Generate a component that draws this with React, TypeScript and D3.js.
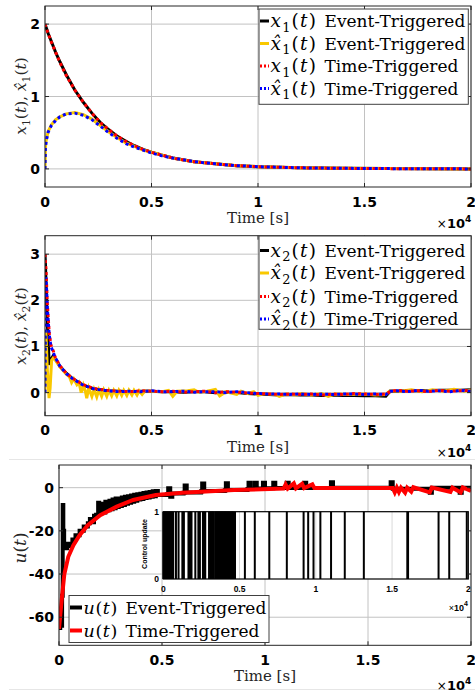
import * as d3 from "d3";

// shared time axis (seconds, printed as x10^4)
const xTickVals = [0, 5000, 10000, 15000, 20000];
const xTickText = ["0", "0.5", "1", "1.5", "2"];

/* ---------------- panel 1 : x1(t) and its estimate ---------------- */
const t1 = [0, 20, 60, 150, 300, 500, 700, 1000, 1400, 1800, 2200, 2600, 3000, 3400, 3800, 4200, 4600, 5000, 5500, 6000, 7000, 8000, 9000, 10000, 12000, 14000, 16000, 18000, 20000];
const x1Event = [2.0, 1.98, 1.95, 1.87, 1.76, 1.61, 1.48, 1.30, 1.09, 0.92, 0.77, 0.64, 0.54, 0.45, 0.38, 0.32, 0.27, 0.23, 0.19, 0.15, 0.10, 0.07, 0.045, 0.03, 0.015, 0.008, 0.004, 0.002, 0.0];
const x1hatEvent = [0, 0.30, 0.40, 0.52, 0.61, 0.68, 0.72, 0.76, 0.78, 0.75, 0.69, 0.60, 0.51, 0.43, 0.36, 0.31, 0.26, 0.23, 0.19, 0.15, 0.10, 0.07, 0.045, 0.03, 0.015, 0.008, 0.004, 0.002, 0.0];
const x1Time = [2.0, 1.98, 1.94, 1.87, 1.75, 1.61, 1.47, 1.29, 1.09, 0.92, 0.77, 0.64, 0.54, 0.45, 0.38, 0.32, 0.27, 0.23, 0.19, 0.15, 0.10, 0.07, 0.045, 0.03, 0.015, 0.008, 0.004, 0.002, 0.0];
const x1hatTime = [0, 0.29, 0.39, 0.51, 0.60, 0.67, 0.72, 0.76, 0.77, 0.74, 0.68, 0.59, 0.50, 0.42, 0.35, 0.30, 0.26, 0.22, 0.18, 0.15, 0.10, 0.07, 0.045, 0.03, 0.015, 0.008, 0.004, 0.002, 0.0];
const y1Ticks = [0, 1, 2];

/* ---------------- panel 2 : x2(t) and its estimate ---------------- */
const t2 = [0, 20, 40, 50, 80, 110, 160, 200, 280, 390, 470, 700, 1000, 1300, 1800, 2300, 2900, 3500, 4000, 4500, 5000, 5500, 6000, 6500, 7000, 7500, 8000, 8500, 9000, 9500, 10000, 10500, 11000, 11500, 12000, 12500, 13000, 13500, 14000, 14500, 15000, 15500, 16000, 16200, 16500, 17000, 17500, 18000, 18500, 19000, 19500, 20000];
const x2Event = [3.0, 2.8, 2.5, 2.35, 1.9, 1.5, 1.0, 0.6, 0.72, 0.8, 0.74, 0.57, 0.42, 0.3, 0.16, 0.08, 0.04, 0.03, 0.02, 0.03, 0.03, 0.02, 0.02, 0.01, 0.02, 0.02, 0.0, 0.01, 0.0, -0.02, -0.03, -0.04, -0.05, -0.04, -0.05, -0.05, -0.06, -0.05, -0.06, -0.06, -0.07, -0.07, -0.08, 0.03, 0.03, 0.04, 0.04, 0.04, 0.05, 0.05, 0.05, 0.06];
const x2Time = [3.0, 2.85, 2.72, 2.66, 2.29, 1.93, 1.57, 1.29, 1.03, 0.9, 0.78, 0.58, 0.42, 0.31, 0.17, 0.09, 0.05, 0.03, 0.02, 0.04, 0.03, 0.02, 0.03, 0.01, 0.02, 0.03, 0.0, 0.02, 0.01, -0.01, -0.02, -0.03, -0.04, -0.03, -0.04, -0.03, -0.05, -0.03, -0.04, -0.02, -0.03, -0.04, -0.03, 0.02, 0.05, 0.03, 0.04, 0.02, 0.05, 0.03, 0.04, 0.05];
const x2hatTime = [0, 1.5, 2.5, 2.45, 2.2, 1.85, 1.5, 1.25, 1.0, 0.87, 0.77, 0.57, 0.41, 0.3, 0.16, 0.08, 0.04, 0.02, 0.03, 0.02, 0.04, 0.02, 0.02, 0.03, 0.01, 0.02, 0.02, 0.0, 0.02, 0.0, -0.02, -0.03, -0.03, -0.04, -0.03, -0.04, -0.03, -0.04, -0.03, -0.03, -0.04, -0.03, -0.04, 0.03, 0.04, 0.02, 0.05, 0.03, 0.04, 0.02, 0.05, 0.03];
const t2hat = [0, 40, 110, 190, 240, 310, 400, 550, 700, 850, 1000, 1150, 1250, 1350, 1500, 1600, 1700, 1800, 1900, 1960, 2050, 2200, 2300, 2430, 2530, 2660, 2760, 2900, 3000, 3130, 3230, 3370, 3470, 3600, 3700, 3840, 3940, 4080, 4180, 4320, 4420, 4560, 4700, 5000, 5500, 5800, 6000, 6200, 6700, 7000, 7200, 7600, 8000, 8200, 8500, 9000, 9200, 9500, 9800, 10000, 10300, 10800, 11000, 11300, 11800, 12000, 12500, 13000, 13300, 13600, 14200, 15000, 15500, 16000, 16200, 16700, 17200, 17700, 18200, 18700, 19200, 19700, 20000];
const x2hatEvent = [0, 1.35, 0.5, -0.12, 0.1, 0.7, 0.76, 0.66, 0.56, 0.48, 0.4, 0.34, 0.22, 0.3, 0.17, 0.22, 0.0, 0.16, 0.02, -0.12, 0.1, -0.08, 0.07, -0.09, 0.06, -0.08, 0.06, -0.08, 0.05, -0.07, 0.05, -0.07, 0.05, -0.06, 0.05, -0.06, 0.05, -0.05, 0.05, -0.05, 0.04, -0.04, 0.04, 0.03, 0.02, 0.05, -0.08, 0.03, 0.04, 0.06, 0.01, 0.03, 0.07, -0.07, 0.02, -0.04, 0.03, -0.02, 0.02, -0.06, -0.02, -0.04, -0.08, -0.03, -0.05, -0.02, -0.05, -0.02, -0.08, -0.03, -0.04, -0.03, -0.05, -0.04, 0.04, 0.03, 0.06, 0.02, 0.06, 0.03, 0.07, 0.03, 0.06];
const y2Ticks = [0, 1, 2, 3];

/* ---------------- panel 3 : control input u(t) ---------------- */
const tU = [0, 130, 260, 450, 700, 1000, 1400, 2000, 2800, 3600, 4700, 6000, 8500, 10900, 11000, 11100, 11400, 11500, 11800, 11900, 12300, 12400, 14000, 16200, 16300, 16400, 16500, 16600, 16800, 16900, 17100, 17200, 18000, 18100, 19000, 19100, 19500, 19600, 20000];
const uTime = [-65.4, -52, -40, -32, -26.6, -22, -17.4, -12.7, -8.8, -5.7, -3.4, -2.3, -1.1, -0.4, 1.5, -0.4, 2.0, -0.3, 1.8, -0.2, 1.5, -0.2, -0.1, -0.1, -2.2, 0, -2.0, 0, -2.3, 0, -1.8, 0.2, -2.2, 0, -2.0, 0, -2.2, 0.1, -1.5];
const tUe = [0, 60, 120, 150, 180, 210, 250, 320, 400, 500, 650, 800, 1000, 1200, 1400, 1500, 1600, 1700, 1800, 1900, 1950, 2050, 2150, 2250, 2350, 2450, 2550, 2600, 2700, 2750, 2850, 2900, 3000, 3050, 3150, 3200, 3300, 3350, 3450, 3500, 3600, 3650, 3750, 3800, 3900, 3950, 4050, 4100, 4200, 4250, 4350, 4400, 4500, 4550, 4650, 4700, 4800, 5250, 5300, 5400, 5500, 6050, 6100, 6200, 6900, 6950, 7050, 8050, 8100, 8200, 9150, 9200, 9300, 9450, 9500, 9600, 9850, 9900, 10000, 10350, 10400, 10500, 11000, 11050, 11150, 11850, 11900, 12000, 13150, 13200, 13300, 16050, 16100, 16200, 17950, 18000, 18100, 19400, 19450, 19550, 20000];
const uEvent = [-65, -57, -64, -50, -8, -20, -26, -28, -27, -26, -24, -22, -20, -18, -16.5, -14.5, -16, -13, -12.5, -7, -12, -7.5, -11.5, -6.5, -10.5, -6, -10, -5.5, -9.5, -5, -9, -5, -8.5, -4.5, -8, -4.2, -7.5, -4, -7, -3.6, -6.5, -3.3, -6, -3, -5.5, -2.8, -5.2, -2.5, -4.8, -2.2, -4.5, -2, -4.2, -1.7, -4, -1.5, -3.4, -3, -0.3, -4.2, -2.7, -2.3, 1.0, -2.2, -1.6, 1.9, -1.5, -1.2, 2, -1.1, -0.6, 2.3, -0.5, -0.5, 2.3, -0.4, -0.4, 2.3, -0.3, -0.3, 2.3, -0.2, -0.2, 2.3, -0.2, -0.1, 2.3, -0.1, -0.1, 2.5, 0, 0, 2.5, -0.5, -0.5, -2.3, 0, 0, -2.3, 0, 0];
const y3Ticks = [-60, -40, -20, 0];

// instants when the event-triggered controller updates (inset)
const updateTimes = [0, 50, 100, 150, 200, 250, 300, 350, 400, 450, 500, 550, 600, 650, 830, 1000, 1250, 1300, 1350, 1650, 1700, 1750, 1800, 1850, 2100, 2300, 2350, 2400, 2600, 2650, 2700, 2750, 3000, 3050, 3100, 3150, 3200, 3250, 3300, 3400, 3450, 3500, 3550, 3600, 3650, 3700, 3750, 3800, 3850, 3900, 3950, 4000, 4050, 4100, 4150, 4200, 4250, 4300, 4350, 4400, 4450, 4500, 4550, 4600, 4700, 5350, 6000, 6950, 8100, 9200, 9500, 9850, 10300, 11000, 11900, 13150, 16000, 16050, 18050, 18750, 19900];
const insetXTicks = [0, 5000, 10000, 15000, 20000];
const insetYTicks = [0, 1];

const legendEvent = "Event-Triggered";
const legendTime = "Time-Triggered";

const INK = "#262626";
const GRID = "#c2c2c2";
const GOLD = "#f9c800";
const SERIF = "'DejaVu Serif', serif";
const SANS = "'DejaVu Sans', sans-serif";
const ARIAL = "'Liberation Sans', sans-serif";

type Sc = d3.ScaleLinear<number, number>;

function linePath(x: Sc, y: Sc, t: number[], v: number[], curve: d3.CurveFactory = d3.curveLinear) {
    const pts = d3.zip(t, v) as [number, number][];
    return d3.line<[number, number]>().x(d => x(d[0])).y(d => y(d[1])).curve(curve)(pts) ?? "";
}

function Grid({ x, y, yTicks }: { x: Sc; y: Sc; yTicks: number[] }) {
    const [l, r] = x.range();
    const [b, tp] = y.range();
    return (
        <g stroke={GRID} strokeWidth={1}>
            {xTickVals.map(v => <line key={"gx" + v} x1={x(v)} x2={x(v)} y1={b} y2={tp} />)}
            {yTicks.map(v => <line key={"gy" + v} x1={l} x2={r} y1={y(v)} y2={y(v)} />)}
        </g>
    );
}

function Box({ x, y, yTicks, timeDy, expDy }: { x: Sc; y: Sc; yTicks: number[]; timeDy: number; expDy: number }) {
    const [l, r] = x.range();
    const [b, tp] = y.range();
    const tk = 4;
    return (
        <g>
            <rect x={l} y={tp} width={r - l} height={b - tp} fill="none" stroke={INK} strokeWidth={1} />
            {xTickVals.map(v => (
                <g key={"tx" + v} stroke={INK}>
                    <line x1={x(v)} x2={x(v)} y1={b} y2={b - tk} />
                    <line x1={x(v)} x2={x(v)} y1={tp} y2={tp + tk} />
                </g>
            ))}
            {yTicks.map(v => (
                <g key={"ty" + v} stroke={INK}>
                    <line x1={l} x2={l + tk} y1={y(v)} y2={y(v)} />
                    <line x1={r} x2={r - tk} y1={y(v)} y2={y(v)} />
                </g>
            ))}
            {xTickVals.map((v, i) => (
                <text key={"lx" + v} x={x(v)} y={b + 19.5} textAnchor="middle"
                    fontFamily={SANS} fontWeight="bold" fontSize={14} fill="#000">{xTickText[i]}</text>
            ))}
            {yTicks.map(v => (
                <text key={"ly" + v} x={l - 5} y={y(v) + 5} textAnchor="end"
                    fontFamily={SANS} fontWeight="bold" fontSize={14} fill="#000">{String(v)}</text>
            ))}
            <text x={(l + r) / 2} y={b + timeDy} textAnchor="middle" fontFamily={SERIF} fontSize={15} fill={INK}>Time [s]</text>
            <text x={r - 6} y={b + expDy} textAnchor="end" fontFamily={SANS} fontSize={12} fill="#000">
                ×<tspan fontWeight="bold" fontSize={13}>10</tspan>
            </text>
            <text x={r - 6} y={b + expDy - 6} fontFamily={SANS} fontWeight="bold" fontSize={9} fill="#000">4</text>
        </g>
    );
}

// italic symbol with optional hat and subscript, followed by (t)
function Sym({ s, hat, sub, size, ls = 0 }: { s: string; hat?: boolean; sub?: string; size: number; ls?: number }) {
    return (
        <>
            <tspan fontStyle="italic" fontSize={size} letterSpacing={ls}>{hat ? s + "\u0302" : s}</tspan>
            {sub ? <tspan fontSize={size * 0.7} dy={size * 0.25} letterSpacing={ls}>{sub}</tspan> : null}
            <tspan fontSize={size} dy={sub ? -size * 0.25 : 0} letterSpacing={ls}>(</tspan>
            <tspan fontStyle="italic" fontSize={size} letterSpacing={ls}>t</tspan>
            <tspan fontSize={size}>)</tspan>
        </>
    );
}

type Row = { color: string; dash?: string; w: number; s: string; hat?: boolean; sub?: string; label: string };

function Legend({ x0, y0, w, h, rows, rowY, sampleW, textGap, mathSize, mathLs }: { x0: number; y0: number; w: number; h: number; rows: Row[]; rowY: number[]; sampleW: number; textGap: number; mathSize: number; mathLs: number }) {
    return (
        <g>
            <rect x={x0} y={y0} width={w} height={h} fill="#fff" stroke="#404040" strokeWidth={1} />
            {rows.map((r, i) => (
                <g key={i}>
                    <line x1={x0 + 1} x2={x0 + 1 + sampleW} y1={rowY[i]} y2={rowY[i]}
                        stroke={r.color} strokeWidth={r.w} strokeDasharray={r.dash} />
                    <text x={x0 + 2.5 + sampleW} y={rowY[i] + 6} fontFamily={SERIF} fontSize={17} fill="#000">
                        <Sym s={r.s} hat={r.hat} sub={r.sub} size={mathSize} ls={mathLs} />
                        <tspan x={x0 + 2.5 + sampleW + textGap} fontSize={17}>{r.label}</tspan>
                    </text>
                </g>
            ))}
        </g>
    );
}

export default function App() {
    const W = 475, H = 693;

    const x1 = d3.scaleLinear().domain([0, 20000]).range([45, 471]);
    const y1 = d3.scaleLinear().domain([-0.25, 2.25]).range([187, 6]);
    const x2 = d3.scaleLinear().domain([0, 20000]).range([45, 471]);
    const y2 = d3.scaleLinear().domain([-0.5, 3.4]).range([415.7, 235.7]);
    const x3 = d3.scaleLinear().domain([0, 20000]).range([59, 471]);
    const y3 = d3.scaleLinear().domain([-73, 10.5]).range([645.3, 465]);
    const xi = d3.scaleLinear().domain([0, 20000]).range([163.3, 468.3]);
    const yi = d3.scaleLinear().domain([0, 1]).range([579, 511.7]);

    const dot = "3 3";

    return (
        <svg width={W} height={H} style={{ position: "absolute", left: 0, top: 0, background: "#fff" }}>
            <defs>
                <clipPath id="c1"><rect x={45} y={6} width={426} height={181} /></clipPath>
                <clipPath id="c2"><rect x={45} y={235.7} width={426} height={180} /></clipPath>
                <clipPath id="c3"><rect x={59} y={465} width={412} height={180.3} /></clipPath>
            </defs>

            {/* panel separators */}
            <line x1={9} x2={475} y1={459.5} y2={459.5} stroke="#e6e6e6" />
            <line x1={9} x2={475} y1={689.5} y2={689.5} stroke="#e6e6e6" />

            {/* ---------- panel 1 ---------- */}
            <Grid x={x1} y={y1} yTicks={y1Ticks} />
            <g clipPath="url(#c1)" fill="none">
                <path d={linePath(x1, y1, t1, x1Event)} stroke="#000" strokeWidth={3} />
                <path d={linePath(x1, y1, t1, x1hatEvent)} stroke={GOLD} strokeWidth={3} />
                <path d={linePath(x1, y1, t1, x1Time)} stroke="#ff0000" strokeWidth={3} strokeDasharray={dot} />
                <path d={linePath(x1, y1, t1, x1hatTime)} stroke="#0000ff" strokeWidth={3} strokeDasharray={dot} />
            </g>
            <Box x={x1} y={y1} yTicks={y1Ticks} timeDy={36} expDy={41} />
            <text transform="translate(26,96) rotate(-90)" textAnchor="middle" fontFamily={SERIF} fontSize={15} fill={INK}>
                <Sym s="x" sub="1" size={15.5} />, <Sym s="x" hat sub="1" size={15.5} />
            </text>
            <Legend x0={259} y0={9} w={209.3} h={95.3} sampleW={9} textGap={54} mathSize={18.5} mathLs={1.2} rowY={[21, 43.5, 66, 88.5]}
                rows={[
                    { color: "#000", w: 3, s: "x", sub: "1", label: legendEvent },
                    { color: GOLD, w: 3, s: "x", hat: true, sub: "1", label: legendEvent },
                    { color: "#ff0000", w: 3, dash: "2 2", s: "x", sub: "1", label: legendTime },
                    { color: "#0000ff", w: 3, dash: "2 2", s: "x", hat: true, sub: "1", label: legendTime },
                ]} />

            {/* ---------- panel 2 ---------- */}
            <Grid x={x2} y={y2} yTicks={y2Ticks} />
            <g clipPath="url(#c2)" fill="none">
                <path d={linePath(x2, y2, t2, x2Event)} stroke="#000" strokeWidth={3} />
                <path d={linePath(x2, y2, t2hat, x2hatEvent)} stroke={GOLD} strokeWidth={3} />
                <path d={linePath(x2, y2, t2, x2Time)} stroke="#ff0000" strokeWidth={3} strokeDasharray={dot} />
                <path d={linePath(x2, y2, t2, x2hatTime)} stroke="#0000ff" strokeWidth={3} strokeDasharray={dot} />
            </g>
            <Box x={x2} y={y2} yTicks={y2Ticks} timeDy={36} expDy={41} />
            <text transform="translate(26,326) rotate(-90)" textAnchor="middle" fontFamily={SERIF} fontSize={15} fill={INK}>
                <Sym s="x" sub="2" size={15.5} />, <Sym s="x" hat sub="2" size={15.5} />
            </text>
            <Legend x0={259} y0={236} w={212} h={93.3} sampleW={9} textGap={54} mathSize={18.5} mathLs={1.2} rowY={[250.5, 273, 296.5, 319]}
                rows={[
                    { color: "#000", w: 3, s: "x", sub: "2", label: legendEvent },
                    { color: GOLD, w: 3, s: "x", hat: true, sub: "2", label: legendEvent },
                    { color: "#ff0000", w: 3, dash: "2 2", s: "x", sub: "2", label: legendTime },
                    { color: "#0000ff", w: 3, dash: "2 2", s: "x", hat: true, sub: "2", label: legendTime },
                ]} />

            {/* ---------- panel 3 ---------- */}
            <Grid x={x3} y={y3} yTicks={y3Ticks} />
            <g clipPath="url(#c3)" fill="none">
                <path d={linePath(x3, y3, tUe, uEvent, d3.curveStepAfter)} stroke="#000" strokeWidth={4} />
                <path d={linePath(x3, y3, tU, uTime)} stroke="#ff0000" strokeWidth={4} />
            </g>

            {/* inset: control update instants */}
            <g>
                <rect x={163.3} y={511.7} width={305} height={67.3} fill="#fff" />
                {insetXTicks.slice(1, -1).map(v => (
                    <line key={"ig" + v} x1={xi(v)} x2={xi(v)} y1={yi(0)} y2={yi(1)} stroke="#d9d9d9" />
                ))}
                {updateTimes.map((t, i) => (
                    <line key={"u" + i} x1={xi(t)} x2={xi(t)} y1={yi(0)} y2={yi(1)} stroke="#000" strokeWidth={2} />
                ))}
                <rect x={163.3} y={511.7} width={305} height={67.3} fill="none" stroke="#000" strokeWidth={1.2} />
                {insetYTicks.map(v => (
                    <text key={"iy" + v} x={159} y={yi(v) + 3} textAnchor="end" fontFamily={ARIAL}
                        fontWeight="bold" fontSize={8.5} fill="#000">{String(v)}</text>
                ))}
                {insetXTicks.map((v, i) => (
                    <text key={"ix" + v} x={xi(v)} y={591.5} textAnchor="middle" fontFamily={ARIAL}
                        fontWeight="bold" fontSize={8.5} fill="#000">{xTickText[i]}</text>
                ))}
                <text x={464} y={611} textAnchor="end" fontFamily={ARIAL} fontSize={9} fill="#000">
                    ×<tspan fontWeight="bold">10</tspan>
                </text>
                <text x={464} y={605.5} fontFamily={ARIAL} fontWeight="bold" fontSize={7} fill="#000">4</text>
                <text transform="translate(146.5,544) rotate(-90)" textAnchor="middle"
                    fontFamily={ARIAL} fontWeight="bold" fontSize={7} fill="#000">Control update</text>
            </g>

            <Box x={x3} y={y3} yTicks={y3Ticks} timeDy={36} expDy={45} />
            <text transform="translate(26,548) rotate(-90)" textAnchor="middle" fontFamily={SERIF} fontSize={16} fill={INK}>
                <Sym s="u" size={17} />
            </text>
            <Legend x0={69} y0={595.5} w={200} h={47} sampleW={12} textGap={42} mathSize={17.5} mathLs={0.6} rowY={[607.5, 630.5]}
                rows={[
                    { color: "#000", w: 4, s: "u", label: legendEvent },
                    { color: "#ff0000", w: 4, s: "u", label: legendTime },
                ]} />
        </svg>
    );
}
